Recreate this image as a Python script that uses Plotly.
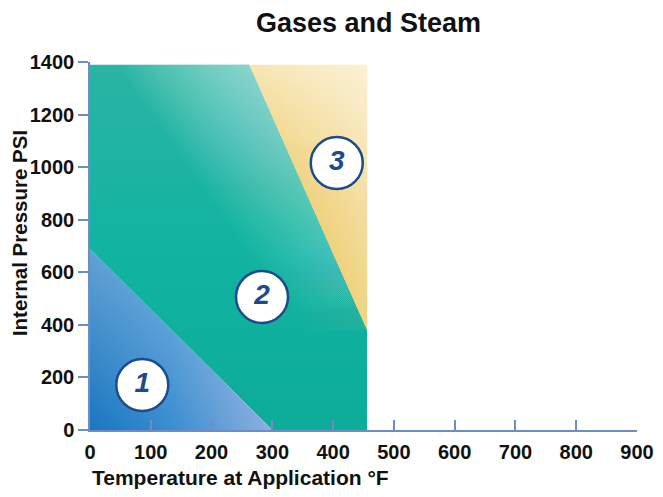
import plotly.graph_objects as go

# ---- data ----
title_text = "Gases and Steam"
x_title = "Temperature at Application °F"
y_title = "Internal Pressure PSI"

x_ticks = [0, 100, 200, 300, 400, 500, 600, 700, 800, 900]
y_ticks = [0, 200, 400, 600, 800, 1000, 1200, 1400]

zone1_x = [0, 0, 300]
zone1_y = [0, 688, 0]

zone2_x = [300, 0, 0, 262, 456, 456]
zone2_y = [0, 688, 1390, 1390, 380, 0]

zone3_x = [262, 456, 456]
zone3_y = [1390, 1390, 380]

label_x = [86, 283, 406]
label_y = [171, 506, 1016]
label_text = ["1", "2", "3"]

AXIS = "#6f8cc8"
NAVY = "#1d4a8c"
FONT = "Liberation Sans"


def closed(xs, ys):
    return list(xs) + [xs[0]], list(ys) + [ys[0]]


fig = go.Figure()

# zone 2 base
x2, y2 = closed(zone2_x, zone2_y)
fig.add_trace(go.Scatter(
    x=x2, y=y2, mode="lines", line=dict(width=0), fill="toself", hoverinfo="skip",
    fillgradient=dict(type="vertical", start=0, stop=1390,
                      colorscale=[[0, "#0dac9a"], [0.5, "#12b3a1"], [1, "#2ab4a4"]]),
))

# soft light band along the zone 2 / zone 3 border (built from the border points)
bx0, by0 = zone3_x[0], zone3_y[0]
bx1, by1 = zone3_x[2], zone3_y[2]
n_bands = 18
for i in range(n_bands):
    w = 10 + i * 12
    px = [bx0 - w, bx0, bx1, bx1 - w * 0.5]
    py = [by0, by0, by1, by1]
    cx, cy = closed(px, py)
    fig.add_trace(go.Scatter(
        x=cx, y=cy, mode="lines", line=dict(width=0), fill="toself", hoverinfo="skip",
        fillgradient=dict(type="vertical", start=by1 - 150, stop=by0,
                          colorscale=[[0, "rgba(255,255,255,0)"], [1, "rgba(255,255,255,0.033)"]]),
    ))

# zone 1
x1, y1 = closed(zone1_x, zone1_y)
fig.add_trace(go.Scatter(
    x=x1, y=y1, mode="lines", line=dict(width=0), fill="toself", hoverinfo="skip",
    fillgradient=dict(type="horizontal", start=0, stop=300,
                      colorscale=[[0, "#1876c0"], [0.45, "#3a8dd0"], [1, "#8cb0df"]]),
))
fig.add_trace(go.Scatter(
    x=x1, y=y1, mode="lines", line=dict(width=0), fill="toself", hoverinfo="skip",
    fillgradient=dict(type="vertical", start=0, stop=688,
                      colorscale=[[0, "rgba(255,255,255,0)"], [1, "rgba(255,255,255,0.32)"]]),
))

# zone 3
x3, y3 = closed(zone3_x, zone3_y)
fig.add_trace(go.Scatter(
    x=x3, y=y3, mode="lines", line=dict(width=0), fill="toself", hoverinfo="skip",
    fillgradient=dict(type="vertical", start=380, stop=1390,
                      colorscale=[[0, "#e2b11c"], [0.45, "#ebc354"], [1, "#f7e6b4"]]),
))
fig.add_trace(go.Scatter(
    x=x3, y=y3, mode="lines", line=dict(width=0), fill="toself", hoverinfo="skip",
    fillgradient=dict(type="horizontal", start=262, stop=456,
                      colorscale=[[0, "rgba(255,255,255,0)"], [1, "rgba(255,255,255,0.45)"]]),
))

# numbered circles
fig.add_trace(go.Scatter(
    x=label_x, y=label_y, mode="markers+text", text=label_text,
    textposition="middle center", hoverinfo="skip",
    marker=dict(size=52, color="white", line=dict(color=NAVY, width=2.5)),
    textfont=dict(family=FONT, size=28, color=NAVY, weight="bold", style="italic"),
))

fig.update_layout(
    width=655, height=489,
    margin=dict(l=82, r=26, t=54, b=67, autoexpand=False),
    paper_bgcolor="white", plot_bgcolor="white",
    showlegend=False,
    font=dict(family=FONT, color="#111111"),
    xaxis=dict(range=[0, 900], tickvals=x_ticks, ticktext=[str(v) for v in x_ticks],
               automargin=False,
               showgrid=False, zeroline=False, showline=True, linecolor=AXIS, linewidth=1.5,
               ticks="inside", ticklen=10, tickcolor=AXIS, tickwidth=1.5,
               ticklabelstandoff=3, ticklabeloverflow="allow",
               tickfont=dict(family=FONT, size=20, weight="bold", color="#111111"), fixedrange=True),
    yaxis=dict(range=[0, 1400], tickvals=y_ticks, ticktext=[str(v) for v in y_ticks],
               automargin=False,
               showgrid=False, zeroline=False, showline=True, linecolor=AXIS, linewidth=1.5,
               ticks="outside", ticklen=10, tickcolor=AXIS, tickwidth=1.5,
               ticklabeloverflow="allow",
               tickfont=dict(family=FONT, size=20, weight="bold", color="#111111"), fixedrange=True),
    annotations=[
        dict(text=title_text, xref="paper", yref="paper", x=0.51, y=1.0, yshift=39,
             xanchor="center", yanchor="middle", showarrow=False,
             font=dict(family=FONT, size=27, weight="bold", color="#111111")),
        dict(text=x_title, xref="paper", yref="paper", x=0, y=0, yshift=-47,
             xanchor="left", yanchor="middle", showarrow=False,
             font=dict(family=FONT, size=21, weight="bold", color="#111111")),
        dict(text=y_title, xref="paper", yref="paper", x=0, xshift=-71, y=0.535,
             xanchor="center", yanchor="middle", showarrow=False, textangle=-90,
             font=dict(family=FONT, size=20.5, weight="bold", color="#111111")),
    ],
)

fig.write_html("out.html")
